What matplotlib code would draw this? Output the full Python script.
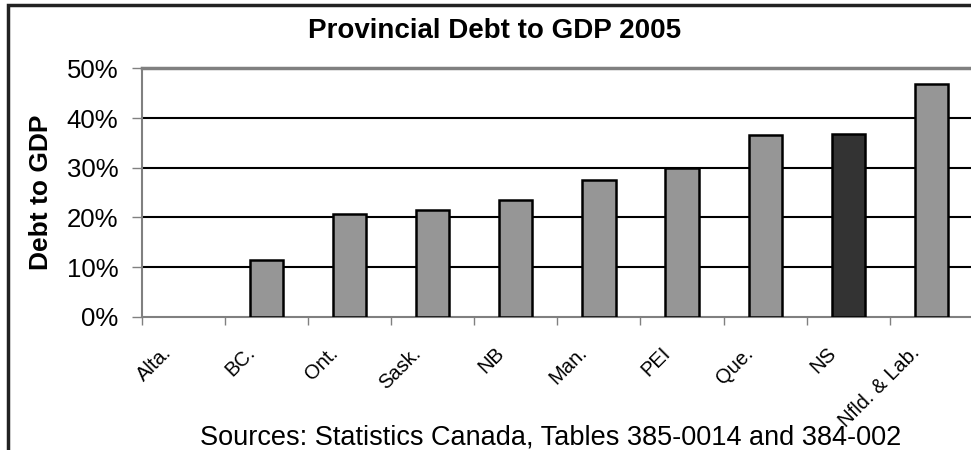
import matplotlib.pyplot as plt
from matplotlib.patches import Rectangle
from matplotlib.ticker import FuncFormatter, FixedLocator
from matplotlib.transforms import ScaledTranslation

provinces = ['Alta.', 'BC.', 'Ont.', 'Sask.', 'NB', 'Man.', 'PEI', 'Que.', 'NS', 'Nfld. & Lab.']
debt_to_gdp = [0.0, 11.4, 20.6, 21.5, 23.6, 27.5, 30.0, 36.6, 36.7, 46.8]
highlight = 'NS'

plt.rcParams['font.family'] = ['Liberation Sans', 'DejaVu Sans']

fig = plt.figure(figsize=(9.71, 4.5), dpi=100)
ax = fig.add_axes([0.146, 0.296, 0.856, 0.552])

colors = ['#333333' if p == highlight else '#969696' for p in provinces]
edges = ['black' if v > 0 else 'none' for v in debt_to_gdp]
x = [i + 0.5 for i in range(len(provinces))]
ax.bar(x, debt_to_gdp, width=0.4, color=colors, edgecolor=edges, linewidth=1.8, zorder=3)

ax.set_xlim(0, len(provinces))
ax.set_ylim(0, 50)
ax.set_yticks([0, 10, 20, 30, 40, 50])
ax.yaxis.set_major_formatter(FuncFormatter(lambda v, p: f'{v:.0f}%'))
for g in [10, 20, 30, 40]:
    ax.axhline(g, color='black', linewidth=1.5, zorder=1)

# category ticks between bars, labels at centers
ax.xaxis.set_major_locator(FixedLocator(range(len(provinces) + 1)))
ax.set_xticklabels([])
ax.set_xticks(x, minor=True)
ax.set_xticklabels(provinces, minor=True, rotation=45, ha='right', va='top', fontsize=14.5)
ax.tick_params(axis='x', which='minor', length=0, pad=19)
ax.tick_params(axis='x', which='major', length=6, color='#808080', width=1)
ax.tick_params(axis='y', length=7, color='#808080', width=1, labelsize=18.5, pad=10)
shift = ScaledTranslation(-0.08, 0, fig.dpi_scale_trans)
for lbl in ax.get_xticklabels(minor=True):
    lbl.set_transform(lbl.get_transform() + shift)

for s in ['left', 'bottom']:
    ax.spines[s].set_color('#808080')
    ax.spines[s].set_linewidth(1.5)
ax.spines['top'].set_color('#808080')
ax.spines['top'].set_linewidth(2.5)
ax.spines['right'].set_visible(False)

ax.set_ylabel('Debt to GDP', fontsize=19, fontweight='bold', labelpad=10)
fig.text(0.509, 0.932, 'Provincial Debt to GDP 2005', ha='center', va='center',
         fontsize=20, fontweight='bold')
fig.text(0.567, 0.027, 'Sources: Statistics Canada, Tables 385-0014 and 384-002',
         ha='center', va='center', fontsize=19.5)

# outer chart frame (cut off on the right and bottom)
fig.patches.append(Rectangle((0.008, -0.1), 1.1, 1.088, transform=fig.transFigure,
                             fill=False, edgecolor='#222222', linewidth=2.5))

fig.savefig('out.png', dpi=100)
